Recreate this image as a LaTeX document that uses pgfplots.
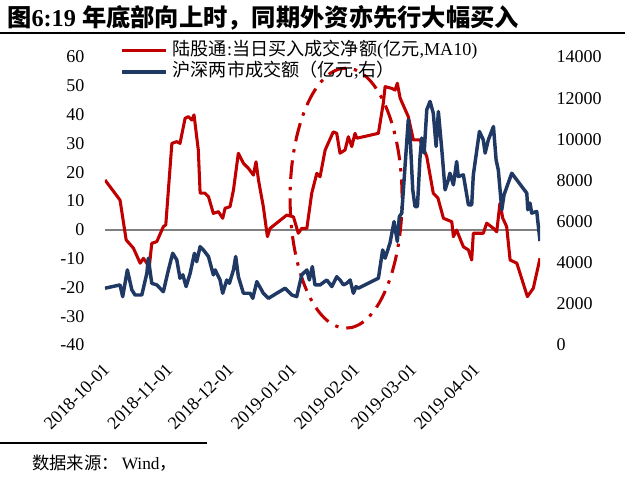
\documentclass[border=0pt]{standalone}
\usepackage{fontspec}
\setmainfont{Liberation Serif}
\newfontfamily\cjk{Noto Sans CJK SC}
\usepackage{pgfplots}
\usepackage{pgfplotstable}
\pgfplotsset{compat=1.18}
\definecolor{redline}{RGB}{192,0,0}
\definecolor{blueline}{RGB}{31,56,100}
\definecolor{zerogray}{RGB}{128,128,128}

% days since 2018-10-01, value (100 million yuan, MA10)
\pgfplotstableread{
d v
-2.5 17.3
4.9 10.3
7.9 -3.5
11.5 -6.4
14.8 -11.6
16.4 -9.9
18.1 -11.6
19.3 -12.8
20.5 -4.7
23.0 -4.1
26.2 1.1
27.4 1.7
30.4 30.0
32.8 30.6
34.4 30.0
36.9 38.7
38.5 39.3
40.2 38.1
41.3 39.9
43.4 27.7
44.3 12.7
46.7 12.7
48.4 11.5
50.8 5.7
53.3 6.3
55.4 4.0
56.6 7.5
59.0 8.0
60.7 13.8
63.1 26.6
65.6 23.1
68.0 21.4
70.5 19.0
71.8 23.6
73.0 17.3
75.4 8.0
77.4 -2.4
78.7 0.5
86.9 5.1
90.2 4.5
92.6 -1.2
94.3 0.5
96.8 0.5
99.2 12.7
101.7 19.6
103.3 18.4
105.8 27.7
109.8 34.0
111.5 33.5
113.1 26.6
115.6 27.7
117.2 32.3
118.9 28.9
120.5 33.5
121.4 31.8
124.6 32.3
132.0 33.5
134.4 43.9
135.3 49.7
138.6 49.1
140.2 48.5
141.3 50.9
142.7 45.7
146.7 39.3
149.2 31.2
152.5 31.2
155.8 25.4
159.0 12.7
161.3 11.0
164.0 4.0
168.1 2.8
168.9 -2.4
170.5 -0.1
173.8 -5.9
176.3 -7.0
177.9 -10.5
178.7 -1.2
183.6 -1.2
185.3 2.3
188.6 0.5
190.2 -0.7
191.8 9.2
193.2 4.0
195.1 1.1
196.8 -10.5
200.1 -11.6
205.3 -23.2
208.2 -20.3
211.5 -9.9
}\redtable

% days since 2018-10-01, turnover (100 million yuan)
\pgfplotstableread{
d v
-2.5 2760
4.9 2920
6.2 2350
8.5 3650
10.7 2680
12.3 2430
15.6 2430
18.1 3490
18.8 4220
20.5 3000
23.0 2920
26.2 2590
28.7 3650
30.8 4460
32.8 4140
34.4 3245
35.8 3410
37.4 2840
39.4 3490
41.5 4460
42.6 4050
44.3 4780
45.9 4620
48.4 4300
50.8 3410
51.7 3650
54.1 3160
55.4 2515
57.4 3160
58.7 3000
60.7 3650
61.8 4300
63.1 3325
65.6 2515
68.9 2515
70.2 2270
72.2 3080
75.4 2515
77.9 2270
82.0 2515
86.1 2760
89.4 2430
91.8 2350
94.3 3410
96.8 3650
98.0 3160
99.5 3810
100.8 2920
103.3 2920
106.6 3160
109.1 2840
111.5 3320
113.1 3160
114.8 2920
116.4 3000
118.1 3160
119.7 2515
121.0 2840
122.1 2760
132.0 3245
134.1 4620
135.3 4220
137.7 4950
139.7 6000
141.3 5030
142.3 6240
143.5 6410
145.1 8680
146.7 10950
147.6 10140
148.9 7540
150.0 6730
151.2 6730
152.5 9160
153.3 10060
154.5 9330
155.8 11440
157.4 11840
159.0 11270
160.4 9650
161.5 11350
163.2 9490
164.8 7540
166.4 8030
167.2 8350
168.9 7785
170.5 8920
171.3 8190
173.8 8270
176.3 6810
177.9 6810
178.7 8270
181.7 10380
183.6 9975
184.5 9330
186.1 9975
188.6 10620
189.9 9000
191.0 8500
192.7 6570
193.8 7300
197.6 8350
205.0 7380
205.5 6570
206.6 6900
207.4 6410
209.9 6490
211.5 5050
}\bluetable

\pgfplotsset{
  common/.style={
    at={(0pt,0pt)}, anchor=south west,
    scale only axis, width=326.25pt, height=216pt,
    xmin=-2.5, xmax=211.5,
    axis line style={draw=none},
    tick style={draw=none},
    major tick length=0pt,
    scaled y ticks=false,
    /pgf/number format/assume math mode=true,
    /pgf/number format/1000 sep={},
    ticklabel style={font=\fontsize{13.5}{16}\selectfont},
  }
}

\begin{document}
\begin{tikzpicture}
\useasboundingbox (-78.75pt,-109.5pt) rectangle (401.25pt,258.75pt);

% title
\node[anchor=west, inner sep=0pt, font=\fontsize{18.2}{21}\selectfont\bfseries] at (-73.5pt,245.25pt)
  {{\cjk 图}6:19 {\cjk 年底部向上时，同期外资亦先行大幅买入}};
\draw[line width=1.5pt] (-78.75pt,234pt) -- (390pt,234pt);

% source
\draw[line width=1.1pt] (-78.75pt,-73.5pt) -- (76.5pt,-73.5pt);
\node[anchor=west, inner sep=0pt, font=\fontsize{13}{15}\selectfont] at (-54.75pt,-88.5pt)
  {{\cjk 数据来源：}\,Wind{\cjk ，}};

\begin{axis}[common,
  ymin=-40, ymax=60,
  ytick={-40,-30,...,60},
  yticklabel style={anchor=east, xshift=-12pt},
  xtick={0,31,61,92,123,151,182},
  xticklabels={2018-10-01,2018-11-01,2018-12-01,2019-01-01,2019-02-01,2019-03-01,2019-04-01},
  xticklabel style={xshift=-6pt, yshift=-13pt, rotate=45, anchor=north east, inner sep=0pt},
  extra y ticks={0},
  extra y tick labels={},
  extra y tick style={grid=major, major grid style={zerogray, line width=1.5pt}},
  legend style={draw=none, fill=none, at={(0.026,1.064)}, anchor=north west,
    font=\fontsize{13.6}{15}\selectfont,
    nodes={inner sep=0.5pt, text height=10pt, text depth=3pt},
    row sep=1.75pt},
  legend cell align=left,
  legend image code/.code={\draw[#1] (0pt,0pt) -- (33pt,0pt);},
  /tikz/every odd column/.style={column sep=3pt},
]
\addplot[redline, line width=2.3pt, line join=round] table[x=d, y=v] {\redtable};
\addlegendentry{{\cjk 陆股通}:{\cjk 当日买入成交净额}({\cjk 亿元},MA10)}
\addlegendimage{blueline, line width=2.6pt}
\addlegendentry{{\cjk 沪深两市成交额（亿元},{\cjk 右）}}
\draw[redline, line width=2.3pt, dash pattern=on 14pt off 6pt on 2.5pt off 6pt]
  (axis cs:116.1,11.0) ellipse [x radius=42pt, y radius=97.5pt];
\end{axis}

\begin{axis}[common,
  ymin=0, ymax=14000,
  ytick={0,2000,...,14000},
  axis y line*=right,
  hide x axis,
  yticklabel style={anchor=west, xshift=9pt},
]
\addplot[blueline, line width=2.6pt, line join=round] table[x=d, y=v] {\bluetable};
\end{axis}
\end{tikzpicture}
\end{document}
